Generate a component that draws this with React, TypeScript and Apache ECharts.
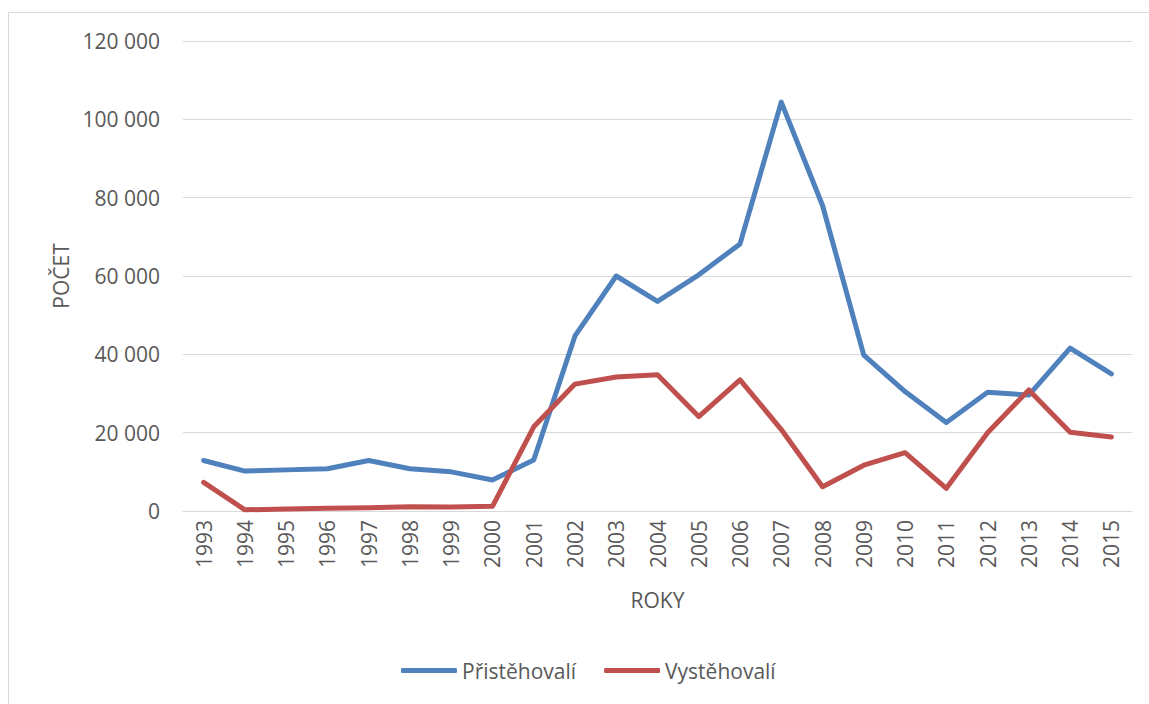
import React, { useEffect, useRef } from "react";
import * as echarts from "echarts";

const years = [
  "1993", "1994", "1995", "1996", "1997", "1998", "1999", "2000", "2001", "2002", "2003", "2004",
  "2005", "2006", "2007", "2008", "2009", "2010", "2011", "2012", "2013", "2014", "2015",
];
const immigrants = [
  12900, 10200, 10500, 10800, 12900, 10800, 10000, 7900, 13000, 44700, 60000, 53500,
  60300, 68200, 104400, 78000, 39800, 30500, 22600, 30300, 29600, 41600, 35000,
];
const emigrants = [
  7300, 300, 500, 700, 800, 1100, 1000, 1200, 21500, 32400, 34200, 34800,
  24100, 33500, 20800, 6200, 11700, 14900, 5800, 20000, 30900, 20100, 18900,
];
const seriesNames = ["Přistěhovalí", "Vystěhovalí"];
const axisNames = { x: "ROKY", y: "POČET" };

const FONT = "'Open Sans', sans-serif";
const TXT = "#595959";

export default function App() {
  const ref = useRef<HTMLDivElement>(null);
  useEffect(() => {
    if (!ref.current) return;
    const chart = echarts.init(ref.current, undefined, { renderer: "svg" });
    chart.setOption({
      animation: false,
      textStyle: { fontFamily: FONT },
      graphic: [
        {
          type: "rect",
          shape: { x: 8.5, y: 12.5, width: 1300, height: 900 },
          style: { fill: "none", stroke: "#d9d9d9", lineWidth: 1 },
          silent: true,
        },
      ],
      grid: { left: 183, right: 17, top: 41, bottom: 193, containLabel: false },
      legend: {
        bottom: 18,
        left: 396,
        data: seriesNames,
        icon: "roundRect",
        itemWidth: 56,
        itemHeight: 5,
        itemGap: 28,
        textStyle: { color: TXT, fontSize: 21, fontFamily: FONT },
      },
      xAxis: {
        type: "category",
        data: years,
        boundaryGap: true,
        name: axisNames.x,
        nameLocation: "middle",
        nameGap: 78,
        nameTextStyle: { color: TXT, fontSize: 21, fontFamily: FONT },
        axisLine: { show: true, lineStyle: { color: "#d9d9d9", width: 1 } },
        axisTick: { show: false },
        axisLabel: { rotate: 90, color: TXT, fontSize: 21, margin: 9, fontFamily: FONT },
      },
      yAxis: {
        type: "value",
        min: 0,
        max: 120000,
        interval: 20000,
        name: axisNames.y,
        nameLocation: "middle",
        nameGap: 108,
        nameTextStyle: { color: TXT, fontSize: 21, fontFamily: FONT },
        axisLine: { show: false },
        axisTick: { show: false },
        splitLine: { lineStyle: { color: "#d9d9d9", width: 1 } },
        axisLabel: {
          color: TXT,
          fontSize: 21,
          margin: 23,
          fontFamily: FONT,
          formatter: (v: number) => String(v).replace(/\B(?=(\d{3})+(?!\d))/g, " "),
        },
      },
      series: [
        {
          name: seriesNames[0],
          type: "line",
          data: immigrants,
          showSymbol: false,
          symbol: "none",
          color: "#4f81bd",
          lineStyle: { color: "#4f81bd", width: 5, cap: "round", join: "round" },
        },
        {
          name: seriesNames[1],
          type: "line",
          data: emigrants,
          showSymbol: false,
          symbol: "none",
          color: "#c0504d",
          lineStyle: { color: "#c0504d", width: 5, cap: "round", join: "round" },
        },
      ],
    });
    return () => chart.dispose();
  }, []);
  return (
    <div
      ref={ref}
      style={{ position: "fixed", left: 0, top: 0, width: 1149, height: 704, background: "#fff" }}
    />
  );
}
